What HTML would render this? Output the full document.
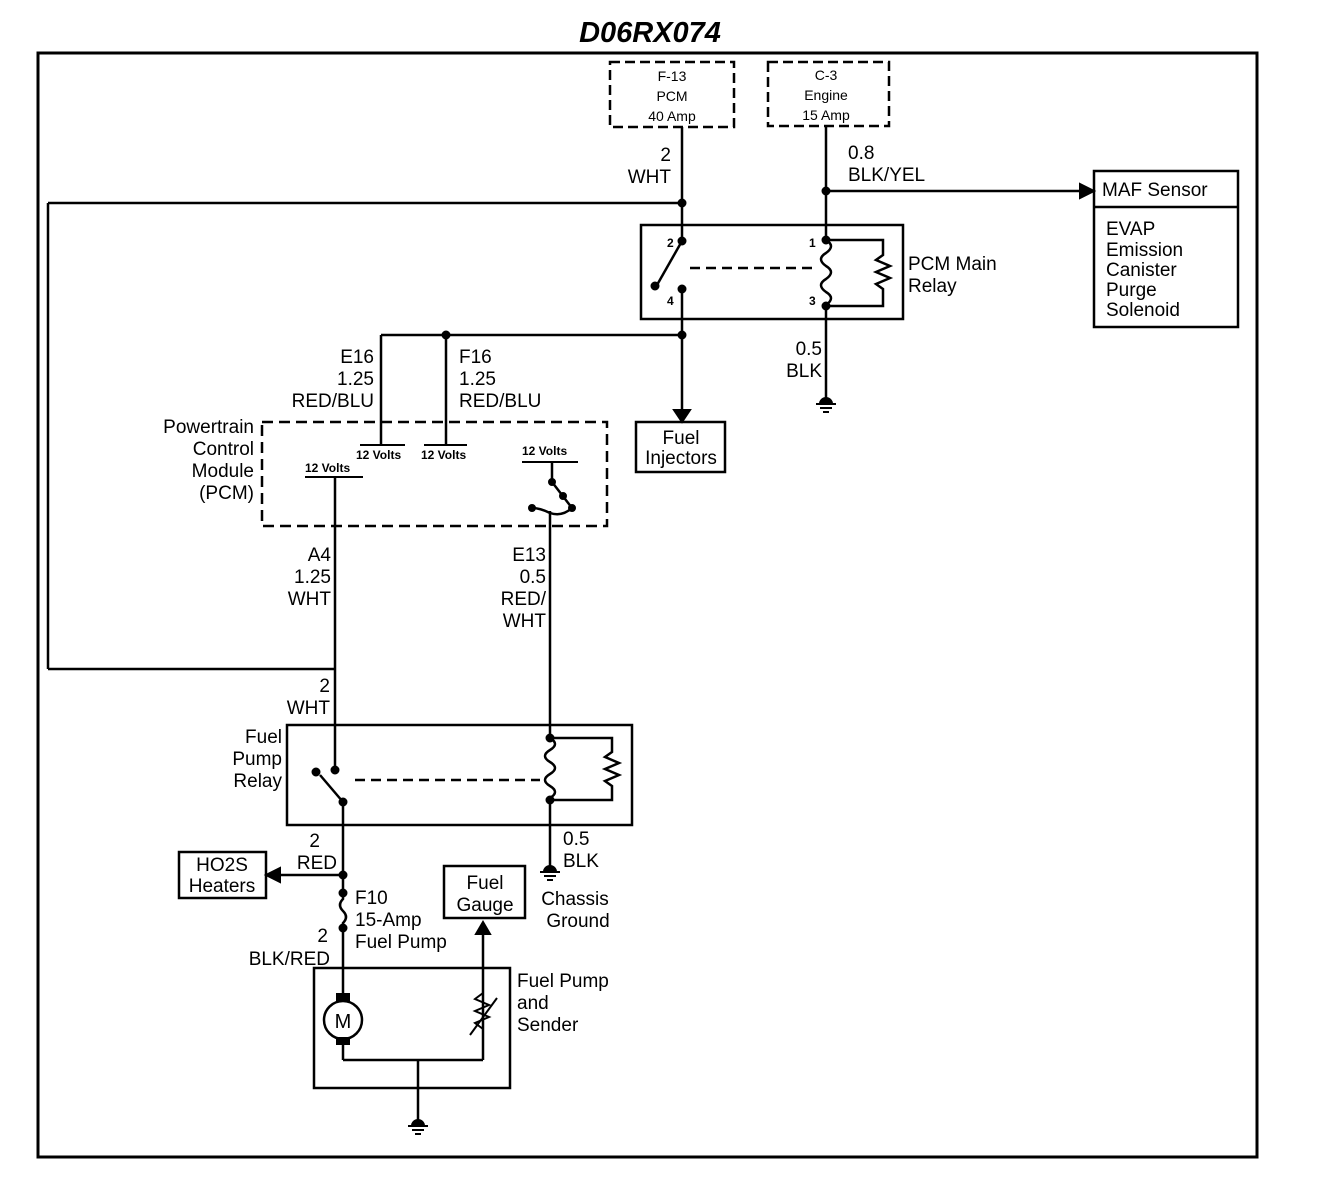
<!DOCTYPE html>
<html><head><meta charset="utf-8"><style>
html,body{margin:0;padding:0;background:#fff;}
svg{display:block;}
text{font-family:"Liberation Sans",Arial,sans-serif;fill:#000;}
.l{font-size:19px;}
.s{font-size:15px;}
.xs{font-size:12px;font-weight:bold;}
</style></head><body>
<svg width="1328" height="1180" viewBox="0 0 1328 1180" xmlns="http://www.w3.org/2000/svg">
<g stroke="#000" fill="none" stroke-width="2.5">
<!-- frame -->
<rect x="38" y="53" width="1219" height="1104" stroke-width="3"/>
<!-- fuse boxes -->
<rect x="610" y="62" width="124" height="65" stroke-dasharray="10,5"/>
<rect x="768" y="62" width="121" height="64" stroke-dasharray="10,5"/>
<!-- PCM main relay -->
<rect x="641" y="225" width="262" height="94"/>
<line x1="682" y1="127" x2="682" y2="241"/>
<line x1="682" y1="241" x2="657" y2="285"/>
<line x1="682" y1="289" x2="682" y2="412"/>
<line x1="48" y1="203" x2="682" y2="203"/>
<line x1="48" y1="203" x2="48" y2="669"/>
<line x1="48" y1="669" x2="335" y2="669"/>
<line x1="690" y1="268" x2="815" y2="268" stroke-dasharray="10,6"/>
<line x1="826" y1="126" x2="826" y2="240"/>
<line x1="826" y1="191" x2="1082" y2="191"/>
<path d="M826 240 q10 6 0 13 q-10 6 0 13 q10 6 0 13 q-10 6 0 13 q10 6 0 13"/>
<path d="M826 240 H883 V255 l-7 5 l14 6 l-14 6 l14 6 l-14 6 l7 5 V306 H826"/>
<line x1="826" y1="306" x2="826" y2="398"/>
<!-- 12V bus -->
<line x1="381" y1="335" x2="682" y2="335"/>
<line x1="381" y1="335" x2="381" y2="445"/>
<line x1="446" y1="335" x2="446" y2="445"/>
<rect x="636" y="422" width="89" height="50"/>
<!-- PCM module -->
<rect x="262" y="422" width="345" height="104" stroke-dasharray="11,6"/>
<line x1="360" y1="445" x2="405" y2="445" stroke-width="2"/>
<line x1="424" y1="445" x2="467" y2="445" stroke-width="2"/>
<line x1="305" y1="477" x2="363" y2="477" stroke-width="2"/>
<line x1="522" y1="462" x2="578" y2="462" stroke-width="2"/>
<line x1="552" y1="462" x2="552" y2="482"/>
<line x1="552" y1="482" x2="572" y2="508"/>
<path d="M532 508 q8 0 18 5 q12 4 22 -5"/>
<line x1="550" y1="511" x2="550" y2="738"/>
<line x1="335" y1="477" x2="335" y2="770"/>
<!-- Fuel pump relay -->
<rect x="287" y="725" width="345" height="100"/>
<line x1="343" y1="802" x2="320" y2="775"/>
<line x1="355" y1="780" x2="540" y2="780" stroke-dasharray="10,6"/>
<path d="M550 738 q10 6 0 12 q-10 6 0 12 q10 6 0 12 q-10 6 0 12 q10 6 0 12"/>
<path d="M550 738 H612 V752 l-7 5 l14 6 l-14 6 l14 6 l-14 6 l7 5 V800 H550"/>
<line x1="550" y1="800" x2="550" y2="866"/>
<line x1="343" y1="802" x2="343" y2="893"/>
<line x1="278" y1="875" x2="343" y2="875"/>
<rect x="179" y="852" width="87" height="46"/>
<path d="M343 893 v6 q-6 6 0 12 q6 6 0 12 v5"/>
<line x1="343" y1="928" x2="343" y2="998"/>
<rect x="444" y="866" width="81" height="52"/>
<line x1="483" y1="932" x2="483" y2="1040"/>
<!-- Fuel pump box -->
<rect x="314" y="968" width="196" height="120"/>
<circle cx="343" cy="1020" r="19"/>
<line x1="343" y1="1040" x2="343" y2="1060"/>
<line x1="343" y1="1060" x2="483" y2="1060"/>
<line x1="483" y1="1040" x2="483" y2="1060"/>
<line x1="418" y1="1060" x2="418" y2="1120"/>
<path d="M483 993 l-8 6 l14 6 l-14 6 l14 6 l-14 6 l8 6" stroke-width="2"/>
<line x1="470" y1="1035" x2="497" y2="998" stroke-width="2"/>
<!-- MAF box -->
<rect x="1094" y="171" width="144" height="156"/>
<line x1="1094" y1="207" x2="1238" y2="207"/>
</g>
<!-- arrows, dots, grounds -->
<g fill="#000" stroke="#000" stroke-width="2">
<polygon points="674,410 690,410 682,422"/>
<polygon points="1080,184 1094,191 1080,198"/>
<polygon points="280,868 266,875 280,882"/>
<polygon points="476,934 490,934 483,922"/>
<circle cx="682" cy="203" r="3.5"/><circle cx="682" cy="241" r="3.5"/><circle cx="682" cy="289" r="3.5"/>
<circle cx="655" cy="286" r="3.5"/><circle cx="682" cy="335" r="3.5"/><circle cx="446" cy="335" r="3.5"/>
<circle cx="826" cy="191" r="3.5"/><circle cx="826" cy="240" r="3.5"/><circle cx="826" cy="306" r="3.5"/>
<circle cx="552" cy="482" r="3"/><circle cx="563" cy="496" r="3"/><circle cx="572" cy="508" r="3"/><circle cx="532" cy="508" r="3"/>
<circle cx="335" cy="770" r="3.5"/><circle cx="316" cy="772" r="3.5"/><circle cx="343" cy="802" r="3.5"/>
<circle cx="550" cy="738" r="3.5"/><circle cx="550" cy="800" r="3.5"/>
<circle cx="343" cy="875" r="3.5"/><circle cx="343" cy="893" r="3.5"/><circle cx="343" cy="928" r="3.5"/>
<rect x="337" y="994" width="12" height="6"/><rect x="337" y="1038" width="12" height="6"/>
<path d="M820 404 a6 6 0 0 1 12 0 z"/><line x1="816" y1="404" x2="836" y2="404"/><line x1="820" y1="408" x2="832" y2="408"/><line x1="823" y1="412" x2="829" y2="412"/>
<path d="M544 872 a6 6 0 0 1 12 0 z"/><line x1="540" y1="872" x2="560" y2="872"/><line x1="544" y1="876" x2="556" y2="876"/><line x1="547" y1="880" x2="553" y2="880"/>
<path d="M412 1126 a6 6 0 0 1 12 0 z"/><line x1="408" y1="1126" x2="428" y2="1126"/><line x1="412" y1="1130" x2="424" y2="1130"/><line x1="415" y1="1134" x2="421" y2="1134"/>
</g>
<!-- text -->
<text x="650" y="42" text-anchor="middle" style="font-size:29px;font-weight:bold;font-style:italic">D06RX074</text>
<g class="s" text-anchor="middle" style="font-size:14px">
<text x="672" y="81">F-13</text><text x="672" y="101">PCM</text><text x="672" y="121">40 Amp</text>
<text x="826" y="80">C-3</text><text x="826" y="100">Engine</text><text x="826" y="120">15 Amp</text>
</g>
<g class="l" text-anchor="end">
<text x="671" y="161">2</text><text x="671" y="183">WHT</text>
<text x="374" y="363">E16</text><text x="374" y="385">1.25</text><text x="374" y="407">RED/BLU</text>
<text x="254" y="433">Powertrain</text><text x="254" y="455">Control</text><text x="254" y="477">Module</text><text x="254" y="499">(PCM)</text>
<text x="331" y="561">A4</text><text x="331" y="583">1.25</text><text x="331" y="605">WHT</text>
<text x="546" y="561">E13</text><text x="546" y="583">0.5</text><text x="546" y="605">RED/</text><text x="546" y="627">WHT</text>
<text x="330" y="692">2</text><text x="330" y="714">WHT</text>
<text x="282" y="743">Fuel</text><text x="282" y="765">Pump</text><text x="282" y="787">Relay</text>
<text x="320" y="847">2</text><text x="337" y="869">RED</text>
<text x="328" y="942">2</text><text x="330" y="965">BLK/RED</text>
<text x="822" y="355">0.5</text><text x="822" y="377">BLK</text>
</g>
<g class="l">
<text x="459" y="363">F16</text><text x="459" y="385">1.25</text><text x="459" y="407">RED/BLU</text>
<text x="848" y="159">0.8</text><text x="848" y="181">BLK/YEL</text>
<text x="908" y="270">PCM Main</text><text x="908" y="292">Relay</text>
<text x="563" y="845">0.5</text><text x="563" y="867">BLK</text>
<text x="355" y="904">F10</text><text x="355" y="926">15-Amp</text><text x="355" y="948">Fuel Pump</text>
<text x="517" y="987">Fuel Pump</text><text x="517" y="1009">and</text><text x="517" y="1031">Sender</text>
<text x="1102" y="196">MAF Sensor</text>
<text x="1106" y="235">EVAP</text><text x="1106" y="256">Emission</text><text x="1106" y="276">Canister</text><text x="1106" y="296">Purge</text><text x="1106" y="316">Solenoid</text>
</g>
<g class="l" text-anchor="middle">
<text x="681" y="444">Fuel</text><text x="681" y="464">Injectors</text>
<text x="222" y="871">HO2S</text><text x="222" y="892">Heaters</text>
<text x="485" y="889">Fuel</text><text x="485" y="911">Gauge</text>
<text x="575" y="905">Chassis</text><text x="578" y="927">Ground</text>
<text x="343" y="1028" style="font-size:20px">M</text>
</g>
<g class="xs">
<text x="667" y="247">2</text><text x="667" y="305">4</text><text x="809" y="247">1</text><text x="809" y="305">3</text>
<text x="356" y="459">12 Volts</text><text x="421" y="459">12 Volts</text><text x="305" y="472">12 Volts</text><text x="522" y="455">12 Volts</text>
</g>
</svg>
</body></html>
